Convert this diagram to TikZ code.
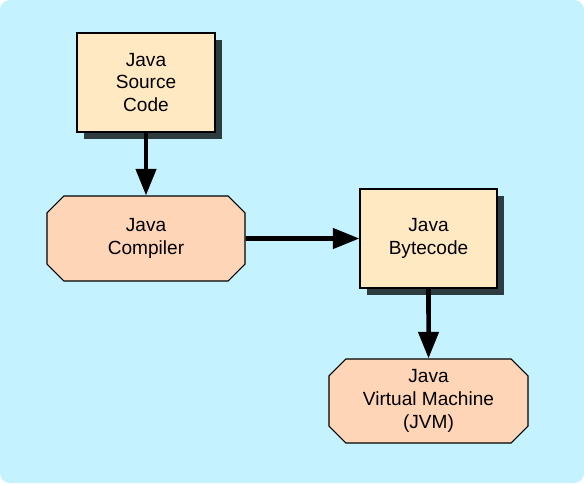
\documentclass[tikz,border=0pt]{standalone}
\usepackage{fontspec}
\setmainfont{Liberation Sans}
\usetikzlibrary{positioning}
\usetikzlibrary{shapes.misc,shadows,arrows.meta}
\definecolor{bgcyan}{HTML}{C4F3FF}
\definecolor{filecream}{HTML}{FFE9C3}
\definecolor{toolpeach}{HTML}{FFD5B8}
\definecolor{shadowgrey}{HTML}{2D3D3F}
\newcommand{\PX}{0.75pt}
\newcommand{\SRCX}{146}
\newcommand{\SRCY}{82.5}
\newcommand{\COMPX}{146}
\newcommand{\COMPY}{238.5}
\newcommand{\BYTEX}{428.5}
\newcommand{\BYTEY}{238.5}
\newcommand{\JVMX}{428.5}
\newcommand{\JVMY}{401}

\begin{document}
\begin{tikzpicture}[x=\PX,y=-\PX]
\tikzstyle{every node}=[font=\fontsize{14.3}{17}\selectfont,align=center]
\tikzstyle{filebox}=[rectangle,draw=black,line width=0.8pt,fill=filecream,
  drop shadow={shadow xshift=5.25pt,shadow yshift=-5.25pt,fill=shadowgrey,opacity=1}]
\tikzstyle{toolbox}=[chamfered rectangle,chamfered rectangle xsep=6.3pt,
  chamfered rectangle ysep=6.3pt,draw=black,line width=0.8pt,fill=toolpeach,inner sep=0pt]
\tikzstyle{flow}=[line width=3.4pt,-{Triangle[width=15pt,length=20pt]}]

% Background
	\fill[bgcyan,rounded corners=7.5pt] (0,0) rectangle (584,483);
	\useasboundingbox (0,0) rectangle (584,483);

% Files
	\node[filebox,minimum width=103.5pt,minimum height=74.25pt] (source) at ({\SRCX},{\SRCY}) {Java\\Source\\Code};
	\node[filebox,minimum width=102.75pt,minimum height=74.25pt] (bytecode) at ({\BYTEX},{\BYTEY}) {Java\\Bytecode};

% Tools
	\node[toolbox,minimum width=148.5pt,minimum height=63.75pt] (compiler) at ({\COMPX},{\COMPY}) {Java\\Compiler};
	\node[toolbox,minimum width=149.25pt,minimum height=63pt] (jvm) at ({\JVMX},{\JVMY}) {Java\\Virtual Machine\\(JVM)};

% Arrows
	\draw[flow] (source) -- (compiler);
	\draw[flow] (compiler) -- (bytecode);
	\draw[flow] (bytecode) -- (jvm);

\end{tikzpicture}
\end{document}
